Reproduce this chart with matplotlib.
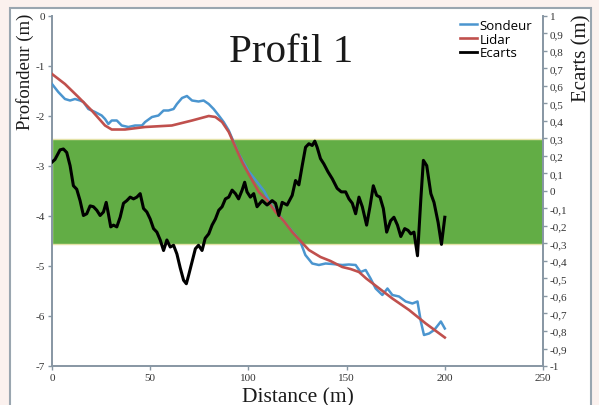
import matplotlib
matplotlib.use("Agg")
import matplotlib.pyplot as plt
from matplotlib.patches import Rectangle
from matplotlib.lines import Line2D
from matplotlib.transforms import blended_transform_factory
from matplotlib.ticker import FuncFormatter

plt.rcParams['axes.unicode_minus'] = False

# ---- data ----
dist_sondeur = [0, 3.2, 6.6, 9.2, 11.7, 14.3, 16, 18.5, 21.9, 25.3, 27, 28.7, 30.4, 33, 35.5,
                38.9, 42.3, 45.8, 47.4, 50.9, 54.2, 56.8, 59.3, 61.9, 63.6, 66.2, 68.7, 71.3,
                74.6, 77.2, 79.8, 82.3, 84.9, 87.4, 90, 92.5, 95, 100, 104, 108, 112, 116, 120,
                124, 126.5, 129, 132.5, 135.9, 139.3, 142.7, 147.8, 151.2, 154.6, 157.1, 159.7,
                162.2, 164.8, 168.2, 170.8, 173.3, 176.7, 180.1, 183.5, 186.1, 187.8, 189.4, 192,
                194.6, 198, 200]
depth_sondeur = [-1.36, -1.52, -1.66, -1.69, -1.66, -1.69, -1.72, -1.86, -1.92, -1.99, -2.06,
                 -2.16, -2.09, -2.09, -2.19, -2.22, -2.19, -2.19, -2.12, -2.02, -1.99, -1.89,
                 -1.89, -1.86, -1.76, -1.64, -1.60, -1.69, -1.71, -1.69, -1.76, -1.86, -1.99,
                 -2.12, -2.29, -2.52, -2.75, -3.1, -3.3, -3.5, -3.8, -4.0, -4.2, -4.38, -4.52,
                 -4.78, -4.95, -4.98, -4.95, -4.96, -4.98, -4.97, -4.98, -5.12, -5.08, -5.25,
                 -5.45, -5.58, -5.45, -5.58, -5.61, -5.71, -5.75, -5.71, -6.11, -6.38, -6.35,
                 -6.28, -6.11, -6.25]

dist_lidar = [0, 6.6, 13.4, 20.2, 27, 30.4, 37.2, 47.4, 61, 71.3, 79.8, 83.2, 86.6, 90, 93.4,
              96.8, 100, 105.3, 109.5, 113.8, 118, 122.3, 126.5, 130.8, 136.7, 141.8, 147.8,
              152, 156.3, 160, 165, 173.3, 181.8, 190.3, 200]
depth_lidar = [-1.16, -1.36, -1.62, -1.89, -2.19, -2.27, -2.27, -2.22, -2.19, -2.09, -2.0,
               -2.02, -2.12, -2.32, -2.62, -2.92, -3.15, -3.52, -3.68, -3.92, -4.1, -4.32,
               -4.5, -4.68, -4.82, -4.9, -5.02, -5.06, -5.12, -5.25, -5.4, -5.65, -5.88,
               -6.15, -6.43]

dist_ecarts = [0, 1.5, 4.1, 5.8, 7.5, 9.2, 10.9, 12.6, 14.3, 16, 17.7, 19.4, 21.1, 22.8, 24.5,
               26.2, 27.6, 28.7, 29.9, 31.3, 33, 34.7, 36.4, 38.1, 39.8, 41.5, 43.2, 44.9,
               46.6, 48.3, 50, 51.7, 53.4, 55.1, 56.8, 58.5, 60.2, 61.9, 63.6, 65.3, 67, 68.4,
               69.6, 71.3, 73, 74.6, 76.4, 78, 79.8, 81.5, 83.2, 84.9, 86.6, 88.3, 90, 91.7,
               93.4, 95, 96.8, 98.1, 99.3, 101, 102.7, 104.4, 107, 109.5, 112.1, 113.8, 115.5,
               117.2, 119.7, 122.3, 124, 125.7, 127.4, 129.1, 130.8, 132.5, 133.8, 135, 136.7,
               138.4, 140.5, 142.7, 145.2, 147.3, 149.5, 151.2, 152.9, 154.6, 156.3, 158,
               160.2, 161.9, 163.6, 165.3, 167, 168.7, 170.4, 172.4, 174.1, 175.9, 177.6,
               179.6, 181.3, 182.7, 184.3, 186.1, 187.8, 189.1, 190.8, 192.9, 194.5, 196.6,
               198.3, 200]
ecarts = [0.165, 0.18, 0.235, 0.24, 0.22, 0.145, 0.03, 0.01, -0.055, -0.14, -0.13, -0.085,
          -0.09, -0.11, -0.14, -0.12, -0.065, -0.13, -0.205, -0.195, -0.205, -0.15, -0.07,
          -0.055, -0.035, -0.045, -0.035, -0.015, -0.1, -0.12, -0.16, -0.215, -0.235, -0.28,
          -0.34, -0.28, -0.32, -0.31, -0.36, -0.44, -0.51, -0.53, -0.48, -0.405, -0.33, -0.31,
          -0.34, -0.27, -0.245, -0.195, -0.16, -0.11, -0.09, -0.045, -0.035, 0.005, -0.015,
          -0.045, 0.005, 0.05, -0.005, -0.035, -0.015, -0.09, -0.055, -0.08, -0.055, -0.07,
          -0.14, -0.065, -0.08, -0.025, 0.06, 0.035, 0.145, 0.25, 0.27, 0.26, 0.285, 0.25,
          0.185, 0.155, 0.11, 0.07, 0.015, -0.005, -0.005, -0.045, -0.07, -0.13, -0.035,
          -0.09, -0.195, -0.09, 0.03, -0.025, -0.035, -0.1, -0.235, -0.17, -0.15, -0.195,
          -0.26, -0.215, -0.225, -0.245, -0.235, -0.37, -0.045, 0.175, 0.145, -0.015, -0.065,
          -0.18, -0.305, -0.15]

band_low, band_high = -0.3, 0.3
depth_ticks = [0, -1, -2, -3, -4, -5, -6, -7]
ecart_ticks = [i / 10 for i in range(-10, 11)]
dist_ticks = [0, 50, 100, 150, 200, 250]

# ---- figure ----
fig = plt.figure(figsize=(5.99, 4.06), dpi=100, facecolor="#fbf1ee")
frame = Rectangle((10 / 599, -0.1), (591 - 10) / 599, 1.1 - 9 / 406,
                  transform=fig.transFigure, facecolor="white", edgecolor="#9aa6b0",
                  linewidth=1.5, zorder=-10)
fig.patches.append(frame)

ax = fig.add_axes([52 / 599, 1 - 367 / 406, (543 - 52) / 599, (367 - 17) / 406])
ax.set_facecolor("none")
ax2 = ax.twinx()

serif = "Liberation Serif"
spine_c = "#8796a3"

ax.set_xlim(0, 250)
ax.set_ylim(-7, 0)
ax2.set_ylim(-1, 1)

trans = blended_transform_factory(ax.transAxes, ax2.transData)
ax.add_patch(Rectangle((0, band_low), 1, band_high - band_low, transform=trans,
                       facecolor="#62ad45", edgecolor="#e4e2a8", linewidth=1.0, zorder=1))

l1, = ax.plot(dist_sondeur, depth_sondeur, color="#4b95cf", lw=1.8, zorder=3)
l2, = ax.plot(dist_lidar, depth_lidar, color="#c0504d", lw=1.9, zorder=4)
l3, = ax2.plot(dist_ecarts, ecarts, color="black", lw=2.2, zorder=5)

for a in (ax, ax2):
    a.spines['top'].set_visible(False)
    for s in ('left', 'right', 'bottom'):
        a.spines[s].set_color(spine_c)
        a.spines[s].set_linewidth(1.4)
ax.spines['right'].set_visible(False)
ax2.spines['left'].set_visible(False)
ax2.spines['bottom'].set_visible(False)

ax.set_xticks(dist_ticks)
ax.set_yticks(depth_ticks)
ax2.set_yticks(ecart_ticks)
ax.xaxis.set_major_formatter(FuncFormatter(lambda v, p: f"{v:g}"))
ax.yaxis.set_major_formatter(FuncFormatter(lambda v, p: f"{v:g}"))
ax2.yaxis.set_major_formatter(FuncFormatter(lambda v, p: f"{v:g}".replace(".", ",")))

ax.tick_params(axis='both', direction='out', length=3, width=1, color=spine_c,
               labelsize=8, pad=2, labelcolor="#333333")
ax2.tick_params(axis='y', direction='out', length=3, width=1, color=spine_c,
                labelsize=8, pad=2, labelcolor="#333333")
for lab in ax.get_xticklabels() + ax.get_yticklabels() + ax2.get_yticklabels():
    lab.set_fontfamily(serif)

ax.text(0.486, (367 - 62) / 350, "Profil 1", transform=ax.transAxes, ha="center",
        va="baseline", fontsize=29.5, family=serif, color="#1a1a1a")
fig.text(25 / 599, 1 - 72 / 406, "Profondeur (m)", rotation=90, ha="center", va="center",
         fontsize=13.5, family=serif, color="#1a1a1a")
fig.text(582 / 599, 1 - 58 / 406, "Ecarts (m)", rotation=90, ha="center", va="center",
         fontsize=15, family=serif, color="#1a1a1a")
fig.text(298 / 599, 3.5 / 406, "Distance (m)", ha="center", va="baseline",
         fontsize=15.5, family=serif, color="#1a1a1a")

handles = [Line2D([], [], color="#4b95cf", lw=1.8),
           Line2D([], [], color="#c0504d", lw=1.9),
           Line2D([], [], color="black", lw=2.0)]
leg = ax2.legend(handles, ["Sondeur", "Lidar", "Ecarts"], loc="upper right",
                 bbox_to_anchor=(540 / 599, 1 - 12 / 406), bbox_transform=fig.transFigure,
                 frameon=False, handlelength=1.3, handletextpad=0.15,
                 labelspacing=0.05, borderpad=0.1, prop={"family": "Open Sans", "size": 9.5})

fig.savefig("out.png", dpi=100, facecolor=fig.get_facecolor())
